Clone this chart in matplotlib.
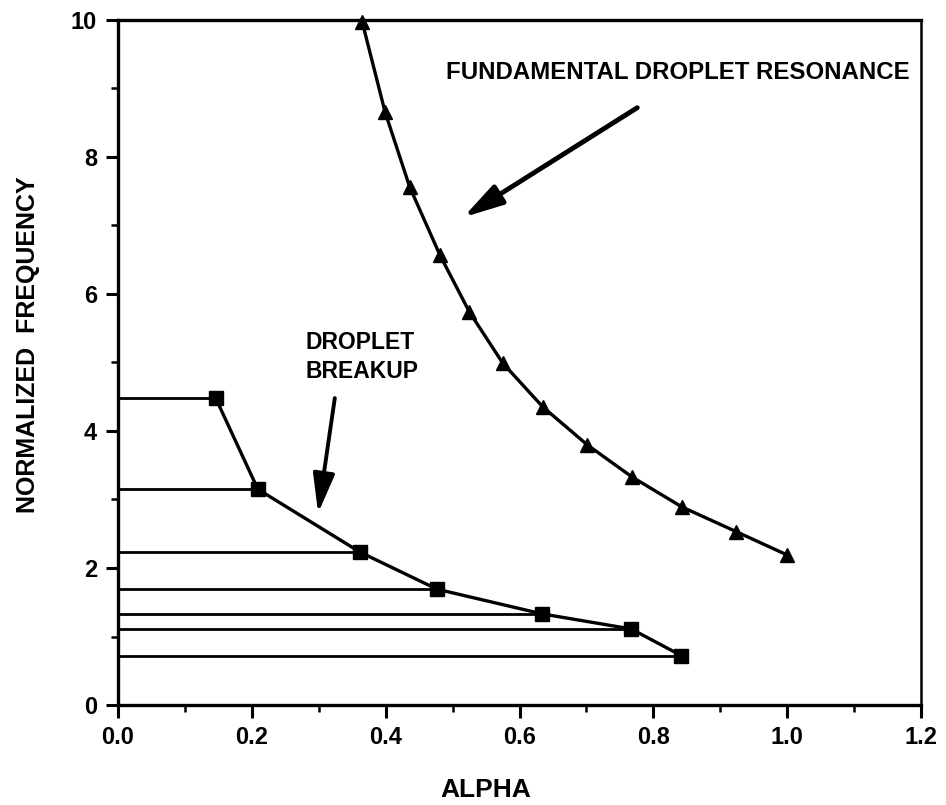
import matplotlib
matplotlib.use('Agg')
import matplotlib.pyplot as plt
from matplotlib.ticker import MultipleLocator, FormatStrFormatter

plt.rcParams['font.family'] = ['Liberation Sans', 'DejaVu Sans']

# fundamental droplet resonance (triangles)
res_alpha = [0.365, 0.399, 0.436, 0.481, 0.525, 0.575, 0.635, 0.701, 0.768, 0.843, 0.924, 1.0]
res_freq = [9.97, 8.66, 7.56, 6.57, 5.74, 4.99, 4.35, 3.80, 3.33, 2.89, 2.53, 2.19]

# droplet breakup (squares)
brk_alpha = [0.146, 0.209, 0.362, 0.477, 0.634, 0.767, 0.842]
brk_freq = [4.48, 3.15, 2.23, 1.69, 1.33, 1.11, 0.72]

fig = plt.figure(figsize=(9.46, 8.05), dpi=100)
ax = fig.add_axes([118/946, 1 - 705/805, (921-118)/946, (705-20)/805])

# horizontal lines from the axis out to each breakup point
for a, f in zip(brk_alpha, brk_freq):
    ax.plot([0, a], [f, f], color='black', lw=2.0, solid_capstyle='butt')

ax.plot(res_alpha, res_freq, color='black', lw=2.4, marker='^', ms=10,
        mfc='black', mec='black', clip_on=False, zorder=3)
ax.plot(brk_alpha, brk_freq, color='black', lw=2.4, marker='s', ms=10,
        mfc='black', mec='black', clip_on=False, zorder=3)

ax.set_xlim(0, 1.2)
ax.set_ylim(0, 10)
ax.xaxis.set_major_locator(MultipleLocator(0.2))
ax.xaxis.set_minor_locator(MultipleLocator(0.1))
ax.xaxis.set_major_formatter(FormatStrFormatter('%.1f'))
ax.yaxis.set_major_locator(MultipleLocator(2))
ax.yaxis.set_minor_locator(MultipleLocator(1))

ax.tick_params(which='major', direction='out', length=9, width=2.2, labelsize=17, pad=6)
ax.tick_params(which='minor', direction='out', length=5, width=1.8)
for lab in ax.get_xticklabels() + ax.get_yticklabels():
    lab.set_fontweight('bold')

for side in ['left', 'bottom', 'top']:
    ax.spines[side].set_linewidth(2.4)
ax.spines['right'].set_linewidth(1.8)

fig.text(28/946, 1 - 345/805, 'NORMALIZED  FREQUENCY', rotation=90,
         ha='center', va='center', fontsize=18, fontweight='bold')
fig.text(486/946, 1 - 790/805, 'ALPHA', ha='center', va='center',
         fontsize=19, fontweight='bold')

head = '-|>,head_length=0.8,head_width=0.22'
ax.text(0.490, 9.24, 'FUNDAMENTAL DROPLET RESONANCE', ha='left', va='center',
        fontsize=17.3, fontweight='bold')
ax.annotate('', xy=(0.516, 7.12), xytext=(0.776, 8.72),
            arrowprops=dict(arrowstyle=head, color='black', lw=3.5,
                            mutation_scale=30, shrinkA=0, shrinkB=0))

ax.text(0.280, 5.08, 'DROPLET\nBREAKUP', ha='left', va='center',
        fontsize=16.5, fontweight='bold', linespacing=1.3)
ax.annotate('', xy=(0.299, 2.80), xytext=(0.324, 4.48),
            arrowprops=dict(arrowstyle=head, color='black', lw=2.8,
                            mutation_scale=30, shrinkA=0, shrinkB=0))

fig.savefig('out.png', dpi=100)
